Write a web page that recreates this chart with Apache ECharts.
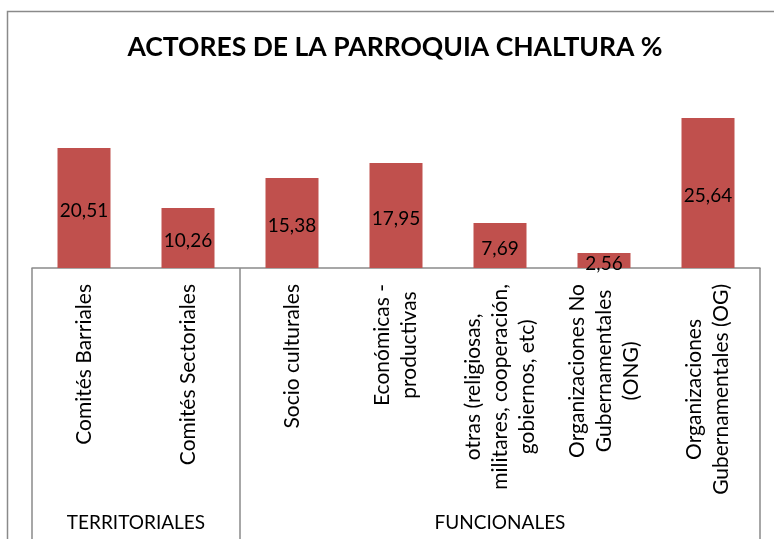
<!DOCTYPE html>
<html>
<head>
<meta charset="utf-8">
<title>Actores de la parroquia Chaltura</title>
<script src="https://cdn.jsdelivr.net/npm/echarts@6/dist/echarts.min.js"></script>
<style>
  html, body { margin: 0; padding: 0; background: #ffffff; }
  #chart { width: 774px; height: 539px; }
</style>
</head>
<body>
<div id="chart"></div>
<script>
// Actor categories (line breaks as they wrap under the axis)
const categories = [
  'Comités Barriales',
  'Comités Sectoriales',
  'Socio culturales',
  'Económicas -\nproductivas',
  'otras (religiosas,\nmilitares, cooperación,\ngobiernos, etc)',
  'Organizaciones No\nGubernamentales\n(ONG)',
  'Organizaciones\nGubernamentales (OG)'
];

// Share of each actor type, in percent
const values = [20.51, 10.26, 15.38, 17.95, 7.69, 2.56, 25.64];

// Outer grouping of the categories
const groupNames = ['TERRITORIALES', 'FUNCIONALES'];
const groupSizes = [2, 5];

const titleText = 'ACTORES DE LA PARROQUIA CHALTURA %';

// Group boundaries and centres in category units
const boundaries = [0];
groupSizes.forEach(n => boundaries.push(boundaries[boundaries.length - 1] + n));
const groupCentres = groupSizes.map((n, i) => boundaries[i] + n / 2);

const AXIS_GRAY = '#8a8a8a';
const FONT = 'Lato, "Open Sans", sans-serif';

const chart = echarts.init(document.getElementById('chart'), null, { renderer: 'canvas' });

chart.setOption({
  animation: false,
  backgroundColor: '#ffffff',
  title: {
    text: titleText,
    left: 395,
    top: 34,
    textAlign: 'center',
    padding: 0,
    textStyle: {
      fontFamily: FONT,
      fontWeight: 'bold',
      fontSize: 26.5,
      color: '#000000'
    }
  },
  graphic: [{
    type: 'rect',
    silent: true,
    shape: { x: 7.5, y: 11.5, width: 900, height: 900 },
    style: { fill: 'none', stroke: AXIS_GRAY, lineWidth: 1.5 },
    z: -1
  }],
  grid: {
    left: 32,
    right: 14,
    top: 92.5,
    bottom: 271,
    containLabel: false
  },
  xAxis: [{
    type: 'category',
    data: categories,
    axisLine: { show: true, lineStyle: { color: AXIS_GRAY, width: 1.5 } },
    axisTick: { show: false },
    axisLabel: {
      interval: 0,
      rotate: 90,
      margin: 16,
      color: '#000000',
      fontFamily: FONT,
      formatter: v => v.split('\n').map(l => '{c|' + l + '}').join('\n'),
      rich: {
        c: {
          align: 'center',
          fontFamily: FONT,
          fontSize: 21,
          lineHeight: 27,
          color: '#000000'
        }
      }
    },
    splitLine: { show: false }
  }, {
    type: 'value',
    position: 'bottom',
    min: 0,
    max: boundaries[boundaries.length - 1],
    axisLine: { show: false },
    axisTick: {
      show: true,
      customValues: boundaries,
      length: 290,
      lineStyle: { color: AXIS_GRAY, width: 1.5 }
    },
    axisLabel: {
      show: true,
      customValues: groupCentres,
      margin: 245,
      formatter: v => {
        const i = groupCentres.indexOf(v);
        return i >= 0 ? groupNames[i] : '';
      },
      fontFamily: FONT,
      fontSize: 19,
      color: '#000000'
    },
    splitLine: { show: false }
  }],
  yAxis: {
    type: 'value',
    min: 0,
    max: 30,
    show: false,
    splitLine: { show: false }
  },
  series: [{
    type: 'bar',
    data: values,
    xAxisIndex: 0,
    barWidth: 53,
    itemStyle: { color: '#C0504D' },
    label: {
      show: true,
      position: 'inside',
      offset: [0, 3],
      formatter: p => p.value.toFixed(2).replace('.', ','),
      fontFamily: FONT,
      fontSize: 19,
      color: '#000000'
    },
    z: 3
  }]
});
</script>
</body>
</html>
